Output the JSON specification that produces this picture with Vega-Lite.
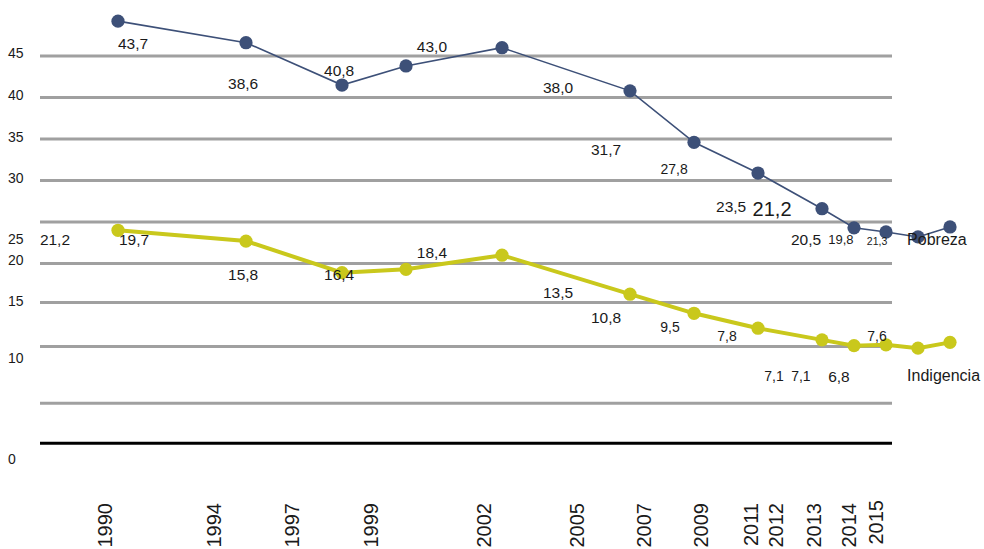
{
  "$schema": "https://vega.github.io/schema/vega-lite/v6.json",
  "width": 984,
  "height": 549,
  "autosize": {"type": "none"},
  "padding": 0,
  "datasets": {
    "series": [
      {"serie": "Pobreza", "slot": 0, "value": 49.2},
      {"serie": "Pobreza", "slot": 4, "value": 46.6},
      {"serie": "Pobreza", "slot": 7, "value": 41.5},
      {"serie": "Pobreza", "slot": 9, "value": 43.8},
      {"serie": "Pobreza", "slot": 12, "value": 46.0},
      {"serie": "Pobreza", "slot": 16, "value": 40.8},
      {"serie": "Pobreza", "slot": 18, "value": 34.6},
      {"serie": "Pobreza", "slot": 20, "value": 30.9},
      {"serie": "Pobreza", "slot": 22, "value": 26.6},
      {"serie": "Pobreza", "slot": 23, "value": 24.3},
      {"serie": "Pobreza", "slot": 24, "value": 23.8},
      {"serie": "Pobreza", "slot": 25, "value": 23.2},
      {"serie": "Pobreza", "slot": 26, "value": 24.4},
      {"serie": "Indigencia", "slot": 0, "value": 24.0},
      {"serie": "Indigencia", "slot": 4, "value": 22.7},
      {"serie": "Indigencia", "slot": 7, "value": 18.9},
      {"serie": "Indigencia", "slot": 9, "value": 19.3},
      {"serie": "Indigencia", "slot": 12, "value": 21.0},
      {"serie": "Indigencia", "slot": 16, "value": 16.3},
      {"serie": "Indigencia", "slot": 18, "value": 14.0},
      {"serie": "Indigencia", "slot": 20, "value": 12.2},
      {"serie": "Indigencia", "slot": 22, "value": 10.8},
      {"serie": "Indigencia", "slot": 23, "value": 10.1},
      {"serie": "Indigencia", "slot": 24, "value": 10.2},
      {"serie": "Indigencia", "slot": 25, "value": 9.8},
      {"serie": "Indigencia", "slot": 26, "value": 10.5}
    ],
    "grid": [
      {"v": 45, "kind": "grid"},
      {"v": 40, "kind": "grid"},
      {"v": 35, "kind": "grid"},
      {"v": 30, "kind": "grid"},
      {"v": 25, "kind": "grid"},
      {"v": 20, "kind": "grid"},
      {"v": 15.3, "kind": "grid"},
      {"v": 10, "kind": "grid"},
      {"v": 3.15, "kind": "grid"},
      {"v": -1.65, "kind": "base"}
    ],
    "labels": [
      {"text": "43,7", "lx": 0.47, "ly": 46.45, "tier": "normal"},
      {"text": "38,6", "lx": 3.91, "ly": 41.63, "tier": "normal"},
      {"text": "40,8", "lx": 6.91, "ly": 43.19, "tier": "normal"},
      {"text": "43,0", "lx": 9.81, "ly": 46.08, "tier": "normal"},
      {"text": "38,0", "lx": 13.75, "ly": 41.14, "tier": "normal"},
      {"text": "31,7", "lx": 15.25, "ly": 33.67, "tier": "normal"},
      {"text": "27,8", "lx": 17.38, "ly": 31.27, "tier": "small"},
      {"text": "23,5", "lx": 19.16, "ly": 26.81, "tier": "normal"},
      {"text": "21,2", "lx": 20.44, "ly": 26.45, "tier": "large"},
      {"text": "20,5", "lx": 21.5, "ly": 22.83, "tier": "normal"},
      {"text": "19,8", "lx": 22.59, "ly": 22.83, "tier": "smaller"},
      {"text": "21,3", "lx": 23.72, "ly": 22.59, "tier": "tiny"},
      {"text": "21,2", "lx": -1.97, "ly": 22.83, "tier": "normal"},
      {"text": "19,7", "lx": 0.5, "ly": 22.83, "tier": "normal"},
      {"text": "15,8", "lx": 3.91, "ly": 18.61, "tier": "normal"},
      {"text": "16,4", "lx": 6.91, "ly": 18.61, "tier": "normal"},
      {"text": "18,4", "lx": 9.81, "ly": 21.27, "tier": "normal"},
      {"text": "13,5", "lx": 13.75, "ly": 16.45, "tier": "normal"},
      {"text": "10,8", "lx": 15.25, "ly": 13.43, "tier": "normal"},
      {"text": "9,5", "lx": 17.25, "ly": 12.23, "tier": "small"},
      {"text": "7,8", "lx": 19.03, "ly": 11.14, "tier": "small"},
      {"text": "7,1", "lx": 20.5, "ly": 6.33, "tier": "small"},
      {"text": "7,1", "lx": 21.34, "ly": 6.33, "tier": "small"},
      {"text": "6,8", "lx": 22.53, "ly": 6.33, "tier": "normal"},
      {"text": "7,6", "lx": 23.72, "ly": 11.14, "tier": "small"}
    ],
    "names": [
      {"text": "Pobreza", "lx": 24.66, "ly": 22.83},
      {"text": "Indigencia", "lx": 24.66, "ly": 6.45}
    ],
    "years": [
      {"year": "1990", "lx": -0.38, "ly": -8.86},
      {"year": "1994", "lx": 3.03, "ly": -8.86},
      {"year": "1997", "lx": 5.47, "ly": -8.86},
      {"year": "1999", "lx": 7.94, "ly": -8.86},
      {"year": "2002", "lx": 11.47, "ly": -8.86},
      {"year": "2005", "lx": 14.38, "ly": -8.86},
      {"year": "2007", "lx": 16.47, "ly": -8.86},
      {"year": "2009", "lx": 18.25, "ly": -8.86},
      {"year": "2011", "lx": 19.81, "ly": -8.86},
      {"year": "2012", "lx": 20.59, "ly": -8.86},
      {"year": "2013", "lx": 21.78, "ly": -8.86},
      {"year": "2014", "lx": 22.88, "ly": -8.86},
      {"year": "2015", "lx": 23.72, "ly": -8.5}
    ],
    "ticks": [
      {"text": "45", "ly": 45.24},
      {"text": "40", "ly": 40.18},
      {"text": "35", "ly": 35.12},
      {"text": "30", "ly": 30.18},
      {"text": "25", "ly": 22.83},
      {"text": "20", "ly": 20.3},
      {"text": "15", "ly": 15.36},
      {"text": "10", "ly": 8.49},
      {"text": "0", "ly": -3.67}
    ]
  },
  "resolve": {"scale": {"x": "shared", "y": "shared"}},
  "layer": [
    {
      "data": {"name": "grid"},
      "mark": {"type": "rule", "strokeWidth": 3},
      "encoding": {
        "x": {"datum": -2.4375, "type": "quantitative", "scale": {"domain": [-3.6875, 27.0625], "nice": false, "zero": false}, "axis": null},
        "x2": {"datum": 24.1875},
        "y": {"field": "v", "type": "quantitative", "scale": {"domain": [-14.398, 51.747], "nice": false, "zero": false}, "axis": null},
        "stroke": {
          "field": "kind",
          "type": "nominal",
          "scale": {"domain": ["grid", "base"], "range": ["#a0a0a0", "#000000"]},
          "legend": null
        }
      }
    },
    {
      "data": {"name": "series"},
      "mark": {"type": "line"},
      "encoding": {
        "x": {"field": "slot", "type": "quantitative"},
        "y": {"field": "value", "type": "quantitative"},
        "color": {
          "field": "serie",
          "type": "nominal",
          "scale": {"domain": ["Pobreza", "Indigencia"], "range": ["#3d5078", "#c9c81c"]},
          "legend": null
        },
        "strokeWidth": {
          "field": "serie",
          "type": "nominal",
          "scale": {"domain": ["Pobreza", "Indigencia"], "range": [1.6, 4]},
          "legend": null
        }
      }
    },
    {
      "data": {"name": "series"},
      "mark": {"type": "circle", "size": 175, "opacity": 1},
      "encoding": {
        "x": {"field": "slot", "type": "quantitative"},
        "y": {"field": "value", "type": "quantitative"},
        "color": {"field": "serie", "type": "nominal", "legend": null}
      }
    },
    {
      "data": {"name": "labels"},
      "mark": {"type": "text", "font": "Liberation Sans", "color": "#1a1a1a", "align": "center", "baseline": "middle"},
      "encoding": {
        "x": {"field": "lx", "type": "quantitative"},
        "y": {"field": "ly", "type": "quantitative"},
        "text": {"field": "text"},
        "size": {
          "condition": [
            {"test": "datum.tier == 'large'", "value": 20},
            {"test": "datum.tier == 'small'", "value": 14},
            {"test": "datum.tier == 'smaller'", "value": 13},
            {"test": "datum.tier == 'tiny'", "value": 10.5}
          ],
          "value": 15.5
        }
      }
    },
    {
      "data": {"name": "names"},
      "mark": {"type": "text", "font": "Liberation Sans", "fontSize": 16, "color": "#1a1a1a", "align": "left", "baseline": "middle"},
      "encoding": {
        "x": {"field": "lx", "type": "quantitative"},
        "y": {"field": "ly", "type": "quantitative"},
        "text": {"field": "text"}
      }
    },
    {
      "data": {"name": "years"},
      "mark": {"type": "text", "font": "Liberation Sans", "fontSize": 20, "color": "#1a1a1a", "angle": 270, "align": "right", "baseline": "middle"},
      "encoding": {
        "x": {"field": "lx", "type": "quantitative"},
        "y": {"field": "ly", "type": "quantitative"},
        "text": {"field": "year"}
      }
    },
    {
      "data": {"name": "ticks"},
      "mark": {"type": "text", "font": "Liberation Sans", "fontSize": 14, "color": "#1a1a1a", "align": "left", "baseline": "middle"},
      "encoding": {
        "x": {"datum": -3.4375, "type": "quantitative"},
        "y": {"field": "ly", "type": "quantitative"},
        "text": {"field": "text"}
      }
    }
  ],
  "config": {
    "view": {"stroke": null},
    "background": "#ffffff"
  }
}
